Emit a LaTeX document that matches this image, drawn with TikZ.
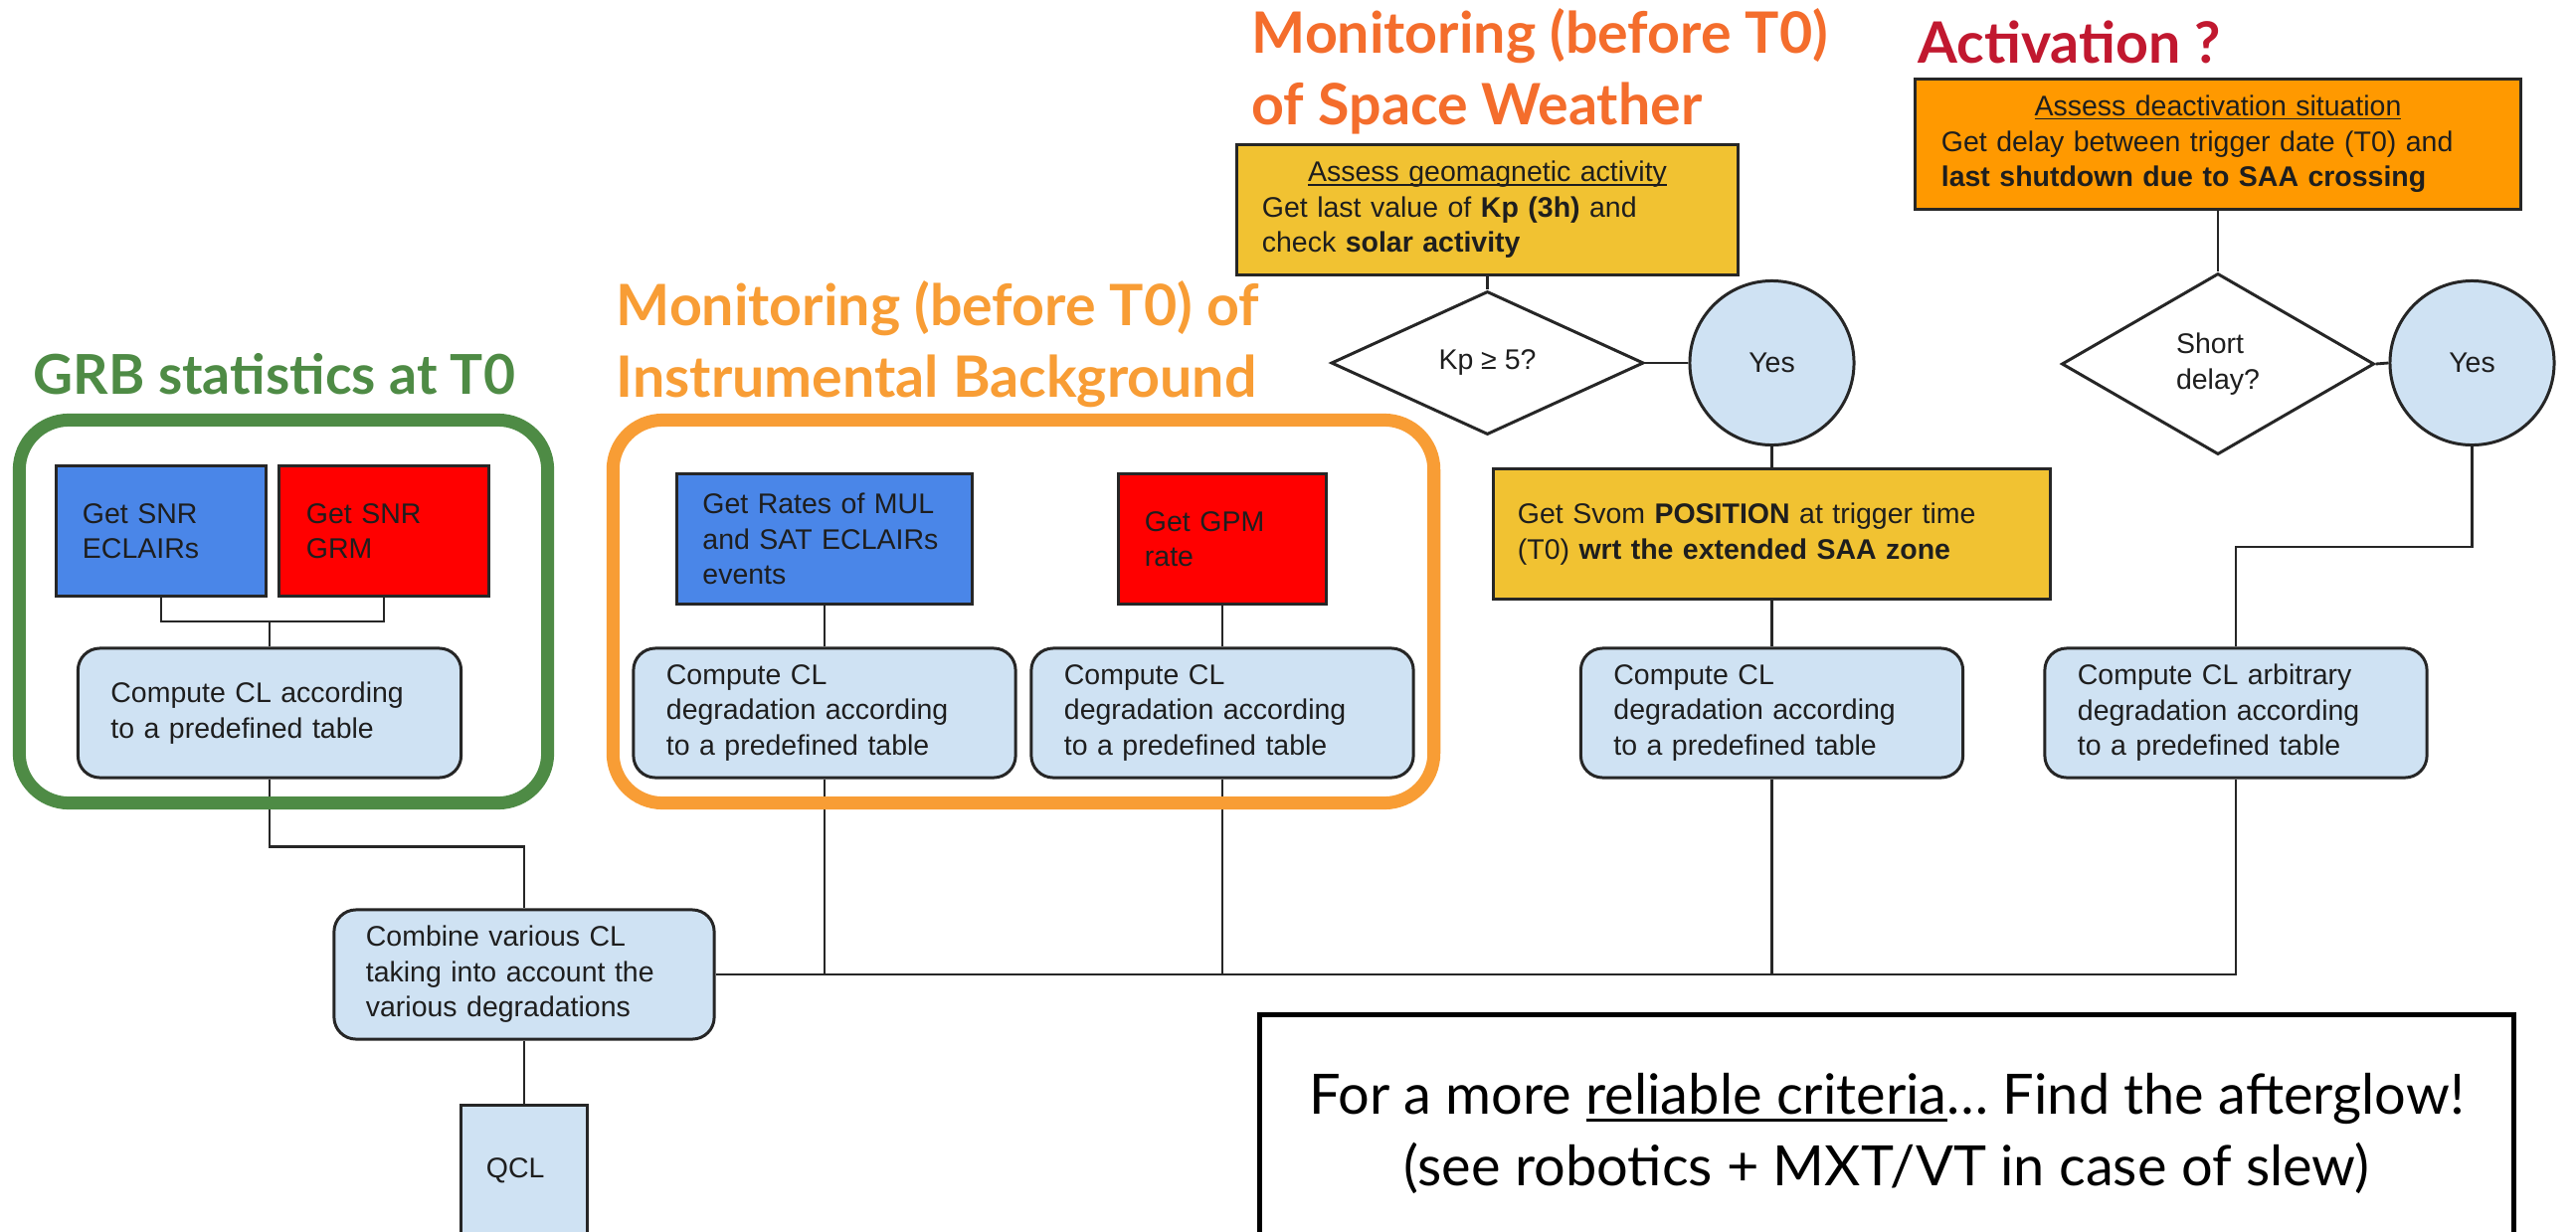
\documentclass[tikz,border=0pt]{standalone}
\usepackage{fontspec}
\setmainfont{Liberation Sans}
\newfontfamily\titlefont{Lato}
\usetikzlibrary{shapes.geometric}

\definecolor{grbgreen}{HTML}{4E8B45}
\definecolor{bkgorange}{HTML}{F89D35}
\definecolor{swxorange}{HTML}{F46D2C}
\definecolor{actred}{HTML}{C1182F}
\definecolor{eclblue}{HTML}{4A86E8}
\definecolor{grmred}{HTML}{FF0000}
\definecolor{swxyellow}{HTML}{F1C232}
\definecolor{saaorange}{HTML}{FF9900}
\definecolor{clblue}{HTML}{CFE2F3}
\definecolor{inktext}{HTML}{1E1E1E}

% underline set close under the baseline
\newcommand\ulx[1]{\setbox0\hbox{#1}\rlap{\rule[-0.13em]{\wd0}{0.055em}}\box0}

\begin{document}
\begin{tikzpicture}[x=0.01cm, y=-0.01cm,
  boxfont/.style={font=\fontsize{8.1}{10.1}\selectfont, text=inktext},
  box/.style={boxfont, rectangle, draw=black!85, line width=0.85pt,
    align=left, inner ysep=0pt, minimum height=1.3cm},
  bluebox/.style={box, fill=eclblue},
  redbox/.style={box, fill=grmred},
  yellowbox/.style={box, fill=swxyellow},
  orangebox/.style={box, fill=saaorange},
  clbox/.style={box, fill=clblue, rounded corners=0.22cm},
  decision/.style={boxfont, diamond, draw=black!85, line width=0.85pt,
    fill=white, inner sep=0pt, align=left},
  answer/.style={boxfont, circle, draw=black!85, line width=0.85pt,
    fill=clblue, inner sep=0pt, minimum size=1.65cm},
  wire/.style={draw=black!85, line width=0.8pt},
  grpframe/.style={rectangle, rounded corners=0.5cm, line width=3.7pt,
    inner sep=0pt},
  heading/.style={font=\titlefont\bfseries\fontsize{16.3}{20.2}\selectfont,
    anchor=base west, inner sep=0pt},
  notefont/.style={font=\titlefont\fontsize{15.9}{20.5}\selectfont, text=black}
]
\useasboundingbox (0,0) rectangle (2590,1239);
\clip (0,0) rectangle (2590,1239);
\fill[white] (0,0) rectangle (2590,1239);

% ---- headings
\node[heading, text=grbgreen, font=\titlefont\bfseries\fontsize{15.7}{20.2}\selectfont] (hgrb) at (33,396) {GRB statistics at T0};
\node[heading, text=bkgorange] (hbkg1) at (619,327) {Monitoring (before T0) of};
\node[heading, text=bkgorange] (hbkg2) at (619,399) {Instrumental Background};
\node[heading, text=swxorange] (hswx1) at (1258,53) {Monitoring (before T0)};
\node[heading, text=swxorange] (hswx2) at (1258,125) {of Space Weather};
\node[heading, text=actred] (hact) at (1928,63) {Activation ?};

% ---- GRB statistics
\node[bluebox, text width=1.58cm, inner xsep=0.26cm] (ecl) at (162,534) {Get SNR\\ECLAIRs};
\node[redbox, text width=1.56cm, inner xsep=0.27cm] (grm) at (386,534) {Get SNR\\GRM};
\node[clbox, text width=3.19cm, inner xsep=0.33cm] (cl1) at (271,717) {Compute CL according\\to a predefined table};
\coordinate (j1) at (271,625);

% ---- instrumental background
\node[bluebox, text width=2.45cm, inner xsep=0.26cm] (mul) at (829,542) {Get Rates of MUL\\and SAT ECLAIRs\\events};
\node[redbox, text width=1.56cm, inner xsep=0.26cm] (gpm) at (1229,542) {Get GPM\\rate};
\node[clbox, text width=3.18cm, inner xsep=0.33cm] (cl2) at (829,717) {Compute CL\\degradation according\\to a predefined table};
\node[clbox, text width=3.18cm, inner xsep=0.33cm] (cl3) at (1229,717) {Compute CL\\degradation according\\to a predefined table};

% ---- space weather
\node[yellowbox, text width=4.53cm, inner xsep=0.25cm] (geo) at (1495.5,211)
  {\makebox[4.53cm][c]{\ulx{Assess geomagnetic activity}}\\
   Get last value of \textbf{Kp (3h)} and\\check \textbf{solar activity}};
\node[decision, minimum width=3.14cm, minimum height=1.44cm] (kp) at (1495.5,365) {Kp ≥ 5?};
\node[answer] (yes1) at (1781.5,365) {Yes};
\node[yellowbox, text width=5.11cm, inner xsep=0.24cm] (pos) at (1781.5,537)
  {Get Svom \textbf{POSITION} at trigger time\\(T0) \textbf{wrt the extended SAA zone}};
\node[clbox, text width=3.18cm, inner xsep=0.33cm] (cl4) at (1781.5,717) {Compute CL\\degradation according\\to a predefined table};

% ---- activation
\node[orangebox, text width=5.56cm, inner xsep=0.26cm] (deact) at (2230,145)
  {\makebox[5.56cm][c]{\ulx{Assess deactivation situation}}\\
   Get delay between trigger date (T0) and\\\textbf{last shutdown due to SAA crossing}};
\node[decision, minimum width=3.14cm, minimum height=1.82cm] (short) at (2230,366) {Short\\delay?};
\node[answer] (yes2) at (2485.5,365) {Yes};
\node[clbox, text width=3.18cm, inner xsep=0.33cm] (cl5) at (2248,717) {Compute CL arbitrary\\degradation according\\to a predefined table};

% ---- combination
\node[clbox, text width=3.18cm, inner xsep=0.32cm] (comb) at (527,980) {Combine various CL\\taking into account the\\various degradations};
\node[clbox, rounded corners=0pt, text width=0.76cm, inner xsep=0.25cm] (qcl) at (527,1177) {QCL};

% ---- connectors
\draw[wire] (ecl.south) |- (j1) -| (grm.south);
\draw[wire] (j1) -- (cl1.north);
\draw[wire] (cl1.south) -- ++(0,68) -| (comb.north);
\draw[wire] (mul.south) -- (cl2.north);
\draw[wire] (gpm.south) -- (cl3.north);
\draw[wire] (geo.south) -- (kp.north);
\draw[wire] (kp.east) -- (yes1.west);
\draw[wire] (yes1.south) -- (pos.north);
\draw[wire] (pos.south) -- (cl4.north);
\draw[wire] (deact.south) -- (short.north);
\draw[wire] (short.east) -- (yes2.west);
\draw[wire] (yes2.south) -- ++(0,101) -| (cl5.north);
\draw[wire] (comb.east) -| (cl5.south);
\draw[wire] (cl2.south) -- (cl2.south |- comb.east);
\draw[wire] (cl3.south) -- (cl3.south |- comb.east);
\draw[wire] (cl4.south) -- (cl4.south |- comb.east);
\draw[wire] (comb.south) -- (qcl.north);

% ---- group frames
\node[grpframe, draw=grbgreen, minimum width=5.31cm, minimum height=3.85cm] (grbframe) at (285,615) {};
\node[grpframe, draw=bkgorange, minimum width=8.25cm, minimum height=3.85cm] (bkgframe) at (1029,615) {};

% ---- closing remark
\node[notefont, draw=black, line width=1.4pt, fill=white, align=center,
  minimum width=12.6cm, minimum height=2.38cm, inner sep=0pt] (note) at (1897,1140)
  {For a more \ulx{reliable criteria}… Find the afterglow!\\(see robotics + MXT/VT in case of slew)};
\end{tikzpicture}
\end{document}
